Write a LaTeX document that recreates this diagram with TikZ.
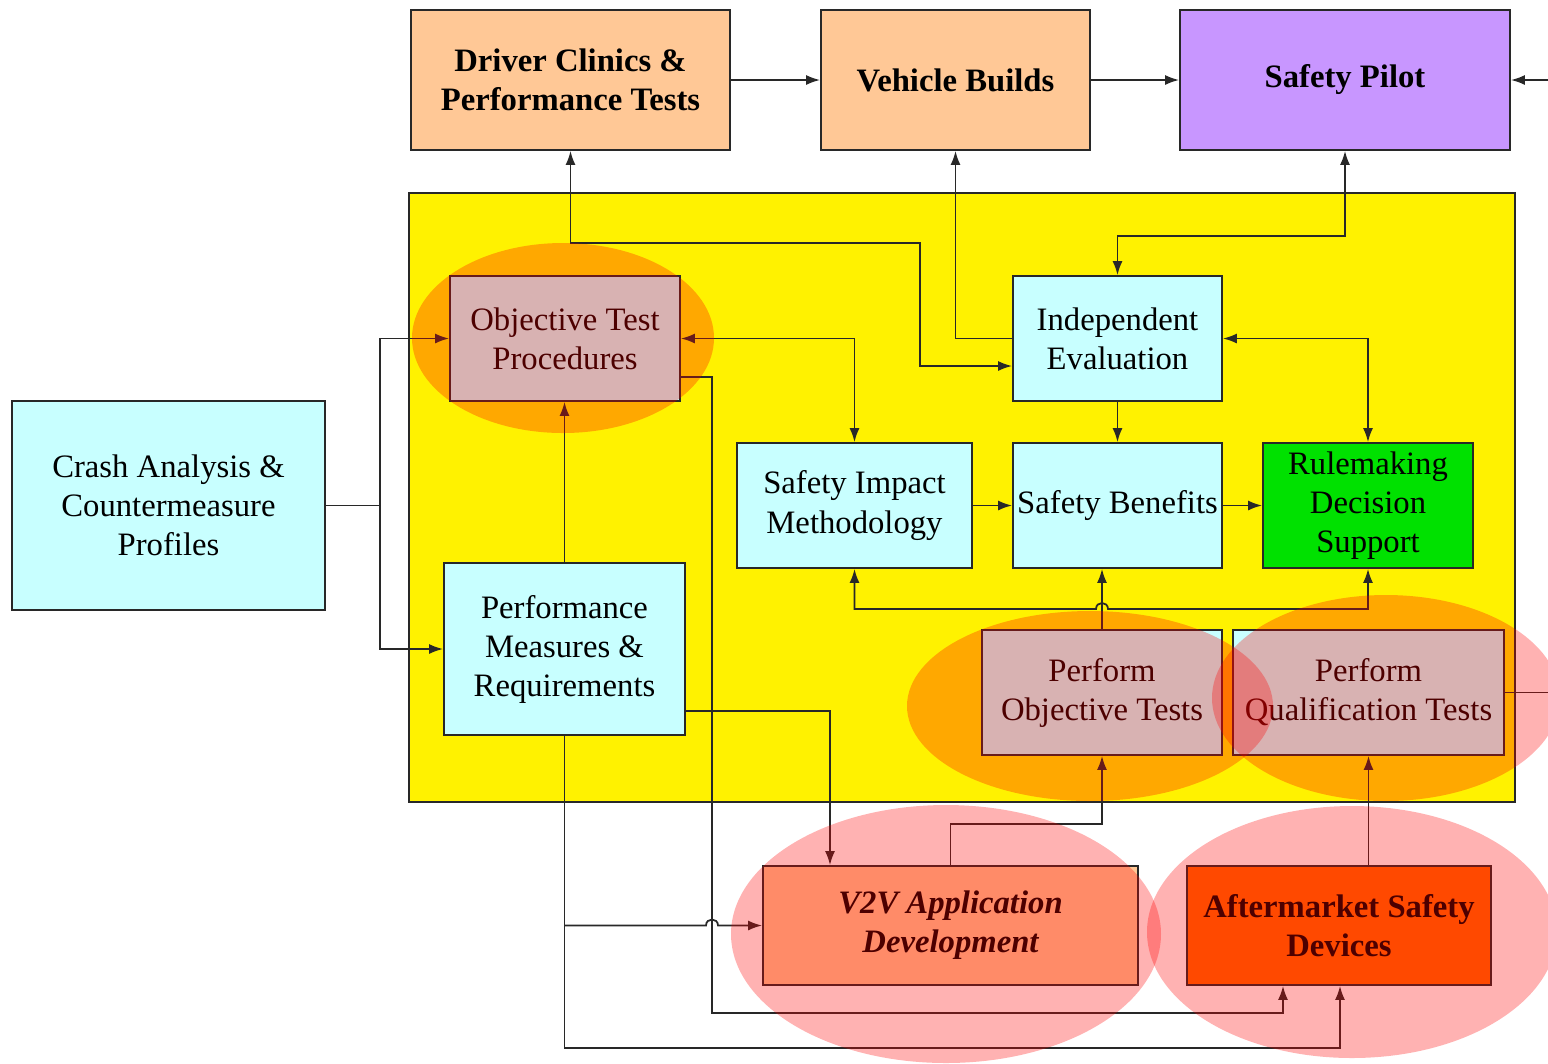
\documentclass[tikz,border=0pt]{standalone}
\usepackage{fontspec}
\setmainfont{Liberation Serif}
\usetikzlibrary{calc,arrows.meta}
\definecolor{peach}{RGB}{255,200,150}
\definecolor{lilac}{RGB}{200,150,255}
\definecolor{paleblue}{RGB}{200,255,255}
\definecolor{brightgreen}{RGB}{0,225,0}
\definecolor{redorange}{RGB}{255,105,0}
\definecolor{linegray}{RGB}{40,40,40}
\newcommand{\diafont}{\fontsize{9.3}{11.1}\selectfont}
\begin{document}
\begin{tikzpicture}[>={Latex[length=1.4mm,width=1mm]}, x=0.1mm, y=-0.1mm,
    box/.style={draw=linegray, line width=0.5pt, inner sep=0pt, align=center, font=\diafont},
    link/.style={draw=linegray, line width=0.5pt},
    glow/.style={fill=red, fill opacity=0.3}]
\useasboundingbox (0,0) rectangle (1548,1063);
% yellow area
\draw[linegray, line width=0.5pt, fill=yellow] (409,193) rectangle (1515,802);
% top row
\node[box, fill=peach, minimum width=31.9mm, minimum height=14mm, font=\diafont\bfseries] (dcp) at (570.5,80) {Driver Clinics \&\\Performance Tests};
\node[box, fill=peach, minimum width=26.9mm, minimum height=14mm, font=\diafont\bfseries] (vb) at (955.5,80) {Vehicle Builds};
\node[box, fill=lilac, minimum width=33mm, minimum height=14mm, font=\diafont\bfseries] (sp) at (1345,80) {Safety Pilot};
% inside
\node[box, fill=paleblue, minimum width=23mm, minimum height=12.5mm] (otp) at (565,338.5) {Objective Test\\Procedures};
\node[box, fill=paleblue, minimum width=20.9mm, minimum height=12.5mm] (ie) at (1117.5,338.5) {Independent\\Evaluation};
\node[box, fill=paleblue, minimum width=31.3mm, minimum height=20.9mm] (cacp) at (168.5,505.5) {Crash Analysis \&\\Countermeasure\\Profiles};
\node[box, fill=paleblue, minimum width=23.5mm, minimum height=12.5mm] (sim) at (854.5,505.5) {Safety Impact\\Methodology};
\node[box, fill=paleblue, minimum width=20.9mm, minimum height=12.5mm] (sb) at (1117.5,505.5) {Safety Benefits};
\node[box, fill=brightgreen, minimum width=21mm, minimum height=12.5mm] (rds) at (1368,505.5) {Rulemaking\\Decision\\Support};
\node[box, fill=paleblue, minimum width=24.1mm, minimum height=17.2mm] (pmr) at (564.5,649) {Performance\\Measures \&\\Requirements};
\node[box, fill=paleblue, minimum width=24mm, minimum height=12.5mm] (pot) at (1102,692.5) {Perform\\Objective Tests};
\node[box, fill=paleblue, minimum width=27.1mm, minimum height=12.5mm] (pqt) at (1368.5,692.5) {Perform\\Qualification Tests};
% bottom row
\node[box, fill=peach, minimum width=37.5mm, minimum height=11.9mm, font=\diafont\bfseries\itshape] (v2v) at (950.5,925.5) {V2V Application\\Development};
\node[box, fill=redorange, minimum width=30.4mm, minimum height=11.9mm, font=\diafont\bfseries] (asd) at (1339,925.5) {Aftermarket Safety\\Devices};
% connectors
\draw[link, ->] (dcp) -- (vb);
\draw[link, ->] (vb) -- (sp);
\draw[link, ->] (pqt.east) -- ++(60,0) |- (sp.east);
\draw[link, <->] (dcp.south) |- (920,243) |- (ie.west |- 0,366);
\draw[link, ->] (ie.west) -| (vb.south);
\draw[link, <->] (sp.south) -- ++(0,85) -| (ie.north);
\draw[link, <->] (otp.east) -| (sim.north);
\draw[link, <->] (ie.east) -| (rds.north);
\draw[link, ->] (ie) -- (sb);
\draw[link, ->] (sim) -- (sb);
\draw[link, ->] (sb) -- (rds);
\draw[link, ->] (pot.north) -- (pot.north |- sb.south);
\draw[link, <->] (sim.south) |- (1096,609) .. controls (1096,601) and (1108,601) .. (1108,609) -| (rds.south);
\coordinate (split) at (380,505.5);
\draw[link] (cacp.east) -- (split);
\draw[link, ->] (split) |- (otp.west);
\draw[link, ->] (split) |- (pmr.west);
\draw[link, ->] (pmr.north) -- (pmr.north |- otp.south);
\draw[link, ->] (otp.east |- 0,377) -| (712,1013) -| (asd.south -| 1283,0);
\draw[link, ->] (pmr.east |- 0,711) -| (v2v.north -| 830,0);
\draw[link, ->] (pmr.south) -- ++(0,312) -| (asd.south -| 1340,0);
\draw[link, ->] (pmr.south |- v2v.west) -- (706,925.5) .. controls (706,917.5) and (718,917.5) .. (718,925.5) -- (v2v.west);
\draw[link, ->] (v2v.north) |- (pot.south |- 0,824) -- (pot.south);
\draw[link, ->] (pqt.south |- asd.north) -- (pqt.south);
% highlights
\fill[glow] (563,338) ellipse [x radius=15.1mm, y radius=9.5mm];
\fill[glow] (1090,706) ellipse [x radius=18.3mm, y radius=9.5mm];
\fill[glow] (1386,698) ellipse [x radius=17.4mm, y radius=10.3mm];
\fill[glow] (946,934) ellipse [x radius=21.5mm, y radius=12.9mm];
\fill[glow] (1352,932) ellipse [x radius=20.5mm, y radius=12.6mm];
\end{tikzpicture}
\end{document}
